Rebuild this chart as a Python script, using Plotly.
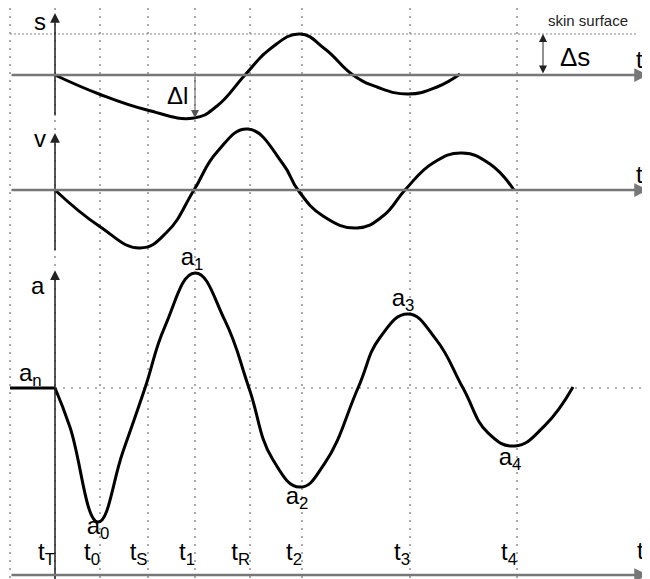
import plotly.graph_objects as go

# time grid (one unit ~ one gridline step)
GRID_T = [-0.9, 0, 0.9, 1.85, 2.8, 3.9, 4.94, 7.1, 9.24]
GRID_LABELS = ["", "t<sub>T</sub>", "t<sub>0</sub>", "t<sub>S</sub>", "t<sub>1</sub>",
               "t<sub>R</sub>", "t<sub>2</sub>", "t<sub>3</sub>", "t<sub>4</sub>"]

# displacement s
s_t = [0, 0.88, 1.84, 2.78, 3.24, 3.8, 4.3, 4.9, 5.4, 5.96, 6.44, 7.06, 7.64, 8.1]
s_val = [0, -1.9, -3.5, -4.3, -3.1, 0, 2.6, 4.1, 2.6, 0, -1.2, -1.9, -1.2, 0.1]
SKIN_LEVEL = 4.1

# velocity v
v_t = [0, 0.88, 1.7, 2.24, 2.78, 3.24, 3.86, 4.56, 4.86, 5.36, 6.04, 6.56, 7.0, 7.56, 8.14, 8.7, 9.18]
v_val = [0, -3.6, -5.8, -4.2, 0, 3.8, 6.1, 2.6, 0, -2.6, -3.8, -2.6, 0, 2.7, 3.7, 2.6, 0]

# acceleration a
a_flat_t = [-0.9, 0]
a_t = [0, 0.3, 0.86, 1.36, 1.8, 2.2, 2.8, 3.4, 3.88, 4.35, 4.9, 5.4, 6.06, 6.5, 7.06,
       7.62, 8.16, 8.66, 9.2, 9.8, 10.36]
a_val = [1.0, 0.79, 0.283, 0.66, 1.0, 1.33, 1.615, 1.36, 1.0, 0.62, 0.47, 0.6, 1.0, 1.27,
         1.396, 1.26, 1.0, 0.76, 0.69, 0.8, 1.005]
A_N = 1.0

# labels of the a extrema
a_lab_t = [0.86, 2.74, 4.84, 6.96, 9.1]
a_lab_val = [0.25, 1.69, 0.41, 1.47, 0.62]
a_lab_txt = ["a<sub>0</sub>", "a<sub>1</sub>", "a<sub>2</sub>", "a<sub>3</sub>", "a<sub>4</sub>"]

X_MIN, X_MAX = -0.9, 11.86
FONT = "Liberation Sans, Arial, sans-serif"
SMOOTH = 1.3

fig = go.Figure()

fig.add_trace(go.Scatter(x=[X_MIN, 11.65], y=[SKIN_LEVEL, SKIN_LEVEL], yaxis="y3", mode="lines",
                         line=dict(color="#888", width=1.2, dash="2px,2px")))
fig.add_trace(go.Scatter(x=[0, X_MAX], y=[A_N, A_N], mode="lines",
                         line=dict(color="#999", width=1.5, dash="2px,6px")))

fig.add_trace(go.Scatter(x=s_t, y=s_val, yaxis="y3", mode="lines",
                         line=dict(color="black", width=3, shape="spline", smoothing=SMOOTH)))
fig.add_trace(go.Scatter(x=v_t, y=v_val, yaxis="y2", mode="lines",
                         line=dict(color="black", width=3, shape="spline", smoothing=SMOOTH)))
fig.add_trace(go.Scatter(x=a_flat_t, y=[A_N, A_N], mode="lines",
                         line=dict(color="black", width=3)))
fig.add_trace(go.Scatter(x=a_t, y=a_val, mode="lines",
                         line=dict(color="black", width=3, shape="spline", smoothing=SMOOTH)))

fig.add_trace(go.Scatter(x=a_lab_t, y=a_lab_val, mode="text", text=a_lab_txt,
                         textfont=dict(family=FONT, size=24, color="black"), cliponaxis=False))


def arrow(x0, y0, x1, y1, yref, width=1.5, color="#222", head=2, size=1.3, side="end"):
    fig.add_annotation(x=x1, y=y1, ax=x0, ay=y0, xref="x", yref=yref, axref="x", ayref=yref,
                       showarrow=True, arrowhead=head, arrowsize=size, arrowwidth=width,
                       arrowcolor=color, arrowside=side, text="")


def label(x, y, txt, yref, size=24, color="black"):
    fig.add_annotation(x=x, y=y, xref="x", yref=yref, text=txt, showarrow=False,
                       font=dict(family=FONT, size=size, color=color))


# vertical axes
arrow(0, -4.2, 0, 6.2, "y3")
arrow(0, -6.2, 0, 5.7, "y2")
arrow(0, -0.03, 0, 1.63, "y")
# horizontal axes
arrow(X_MIN, 0, X_MAX, 0, "y3", width=2.5, color="#777", size=1.1)
arrow(X_MIN, 0, X_MAX, 0, "y2", width=2.5, color="#777", size=1.1)
arrow(X_MIN, 0, X_MAX, 0, "y", width=2.5, color="#777", size=1.1)
# delta arrows
arrow(2.8, 0, 2.8, -4.3, "y3", width=1, color="#555", size=1.6)
arrow(9.76, 0, 9.76, SKIN_LEVEL, "y3", width=1, color="#222", size=1.6, side="end+start")

label(-0.3, 5.4, "s", "y3")
label(-0.3, 5.2, "v", "y2")
label(-0.34, 1.55, "a", "y")
label(11.68, 1.6, "t", "y3")
label(11.68, 1.6, "t", "y2")
label(11.7, 0.13, "t", "y")
label(-0.5, 1.07, "a<sub>n</sub>", "y")
label(2.45, -2.0, "Δl", "y3")
label(10.4, 1.8, "Δs", "y3", size=26)
label(10.65, 5.5, "skin surface", "y3", size=15, color="#222")

fig.update_layout(
    width=642, height=571,
    margin=dict(l=0, r=0, t=0, b=0),
    plot_bgcolor="white", paper_bgcolor="white",
    showlegend=False,
    font=dict(family=FONT, color="black"),
    xaxis=dict(range=[-0.94, 11.9], domain=[0, 1], showgrid=True, gridcolor="#aaa", gridwidth=1.5,
               griddash="2px,6px", zeroline=False, showline=False, ticks="",
               tickvals=GRID_T, ticktext=GRID_LABELS, ticklabelposition="inside left",
               ticklabelstandoff=8, tickfont=dict(family=FONT, size=24, color="black")),
    yaxis=dict(range=[-4 / 187, 567 / 187], domain=[0, 1], visible=False),
    yaxis2=dict(range=[-38.9, 18.2], overlaying="y", visible=False),
    yaxis3=dict(range=[-50.4, 6.7], overlaying="y", visible=False),
)

fig.write_html("out.html")
